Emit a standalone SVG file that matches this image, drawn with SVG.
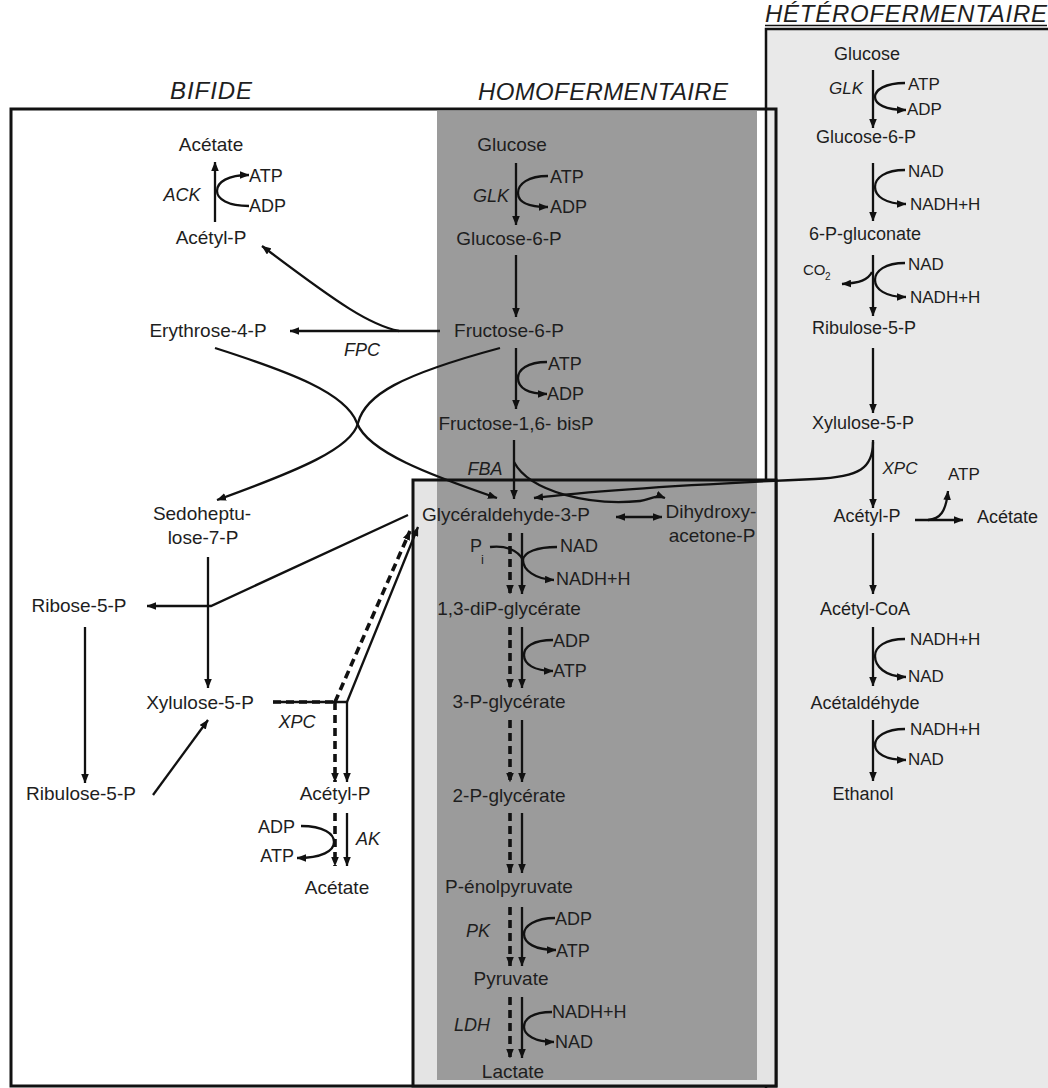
<svg xmlns="http://www.w3.org/2000/svg" width="1048" height="1088" viewBox="0 0 1048 1088">
<defs>
<marker id="ah" viewBox="0 0 10 8" refX="9.5" refY="4" markerWidth="9.5" markerHeight="8" markerUnits="userSpaceOnUse" orient="auto"><path d="M0,0 L10,4 L0,8 z" fill="#111"/></marker>
<marker id="ah2" viewBox="0 0 10 8" refX="9.5" refY="4" markerWidth="9.5" markerHeight="8" markerUnits="userSpaceOnUse" orient="auto-start-reverse"><path d="M0,0 L10,4 L0,8 z" fill="#111"/></marker>
<style>
text{font-family:"Liberation Sans",Arial,Helvetica,sans-serif;fill:#1e1e1e}
.n{font-size:19px;text-anchor:middle}
.h{font-size:18px;text-anchor:middle}
.hs{font-size:18px;text-anchor:start}
.c{font-size:18px}
.hc{font-size:17px}
.e{font-size:18px;font-style:italic;text-anchor:middle}
.t{font-size:24px;font-style:italic;text-anchor:middle}
.ln{stroke:#111;stroke-width:2.3;fill:none}
.ar{marker-end:url(#ah)}
.d{stroke-dasharray:8 5;stroke-width:3.6}
.box{fill:none;stroke:#111;stroke-width:3}
</style>
</defs>
<rect width="1048" height="1088" fill="#fff"/>
<g id="panels">
<rect x="766" y="29" width="300" height="1080" fill="#e9e9e9" stroke="#111" stroke-width="2.5"/>
<rect class="box" x="11" y="109" width="765" height="977"/>
<rect x="413" y="480" width="363" height="606" fill="#e4e4e4"/>
<rect x="437" y="111" width="320" height="969" fill="#9b9b9b"/>
<rect class="box" x="413" y="480" width="363" height="606"/>
</g>
<g id="titles">
<text class="t" x="211" y="99" textLength="82">BIFIDE</text>
<text class="t" x="603" y="100" textLength="250">HOMOFERMENTAIRE</text>
<text class="t" x="906" y="22" textLength="282">HÉTÉROFERMENTAIRE</text>
<line x1="765" y1="25.5" x2="1047" y2="25.5" stroke="#111" stroke-width="1.6"/>
</g>
<g id="connectors">
<!-- homofermentaire main axis -->
<line class="ln ar" x1="516" y1="163" x2="516" y2="225"/>
<line class="ln ar" x1="516" y1="255" x2="516" y2="317"/>
<line class="ln ar" x1="516" y1="348" x2="516" y2="409"/>
<line class="ln ar" x1="514" y1="440" x2="514" y2="499"/>
<line class="ln ar d" x1="510" y1="533" x2="510" y2="594"/>
<line class="ln ar" x1="522" y1="533" x2="522" y2="594"/>
<line class="ln ar d" x1="510" y1="627" x2="510" y2="688"/>
<line class="ln ar" x1="522" y1="627" x2="522" y2="688"/>
<line class="ln ar d" x1="510" y1="720" x2="510" y2="782"/>
<line class="ln ar" x1="522" y1="720" x2="522" y2="782"/>
<line class="ln ar d" x1="510" y1="813" x2="510" y2="873"/>
<line class="ln ar" x1="522" y1="813" x2="522" y2="873"/>
<line class="ln ar d" x1="510" y1="907" x2="510" y2="966"/>
<line class="ln ar" x1="522" y1="907" x2="522" y2="966"/>
<line class="ln ar d" x1="510" y1="997" x2="510" y2="1058"/>
<line class="ln ar" x1="522" y1="997" x2="522" y2="1058"/>
<!-- homo side reactions -->
<path class="ln ar" d="M548,176 C528,176 518,184 518,193 C518,202 528,207 548,207"/>
<path class="ln ar" d="M547,362 C527,362 518,370 518,378 C518,388 528,394 547,394"/>
<path class="ln" d="M490,547 C505,545 518,550 523,560"/>
<path class="ln ar" d="M557,547 C537,547 524,552 523,560 C523,570 535,579 554,580"/>
<path class="ln ar" d="M553,640 C533,640 524,647 524,655 C524,664 534,671 553,671"/>
<path class="ln ar" d="M555,918 C535,918 524,926 524,934 C524,943 535,950 556,950"/>
<path class="ln ar" d="M552,1012 C532,1012 524,1019 524,1027 C524,1035 535,1042 554,1042"/>
<!-- FBA to DHAP, isomerase -->
<path class="ln ar" d="M514,462 C530,492 590,506 640,501 C650,500 655,494 665,498"/>
<line class="ln" x1="616" y1="517" x2="662" y2="517" marker-start="url(#ah2)" marker-end="url(#ah2)"/>
<!-- bifide -->
<line class="ln ar" x1="215" y1="222" x2="215" y2="162"/>
<path class="ln ar" d="M249,206 C228,206 217,199 217,191 C217,182 228,175 249,175"/>
<path class="ln ar" d="M399,331 C370,325 340,305 262,246"/>
<line class="ln ar" x1="440" y1="331" x2="290" y2="331"/>
<path class="ln ar" d="M500,348 C400,375 365,395 358,423 C352,448 300,470 217,500"/>
<path class="ln ar" d="M215,348 C290,372 346,393 357,423 C368,452 430,475 497,498"/>
<line class="ln ar" x1="208" y1="557" x2="208" y2="688"/>
<polyline class="ln ar" points="408,515 211,606 147,606"/>
<line class="ln ar" x1="85" y1="627" x2="85" y2="783"/>
<line class="ln ar" x1="153" y1="795" x2="208" y2="720"/>
<line class="ln" x1="273" y1="702" x2="347" y2="702"/>
<line class="ln d" x1="273" y1="702" x2="335" y2="702"/>
<line class="ln ar d" x1="335" y1="702" x2="335" y2="782"/>
<line class="ln ar" x1="347" y1="702" x2="347" y2="782"/>
<line class="ln ar d" x1="335" y1="702" x2="410" y2="531"/>
<line class="ln ar" x1="347" y1="702" x2="418" y2="527"/>
<line class="ln ar d" x1="335" y1="813" x2="335" y2="866"/>
<line class="ln ar" x1="347" y1="813" x2="347" y2="866"/>
<path class="ln ar" d="M301,826 C324,826 334,834 334,842 C334,851 322,858 297,858"/>
<!-- heterofermentaire -->
<line class="ln ar" x1="873" y1="70" x2="873" y2="128"/>
<line class="ln ar" x1="873" y1="163" x2="873" y2="221"/>
<line class="ln ar" x1="873" y1="255" x2="873" y2="316"/>
<line class="ln ar" x1="873" y1="348" x2="873" y2="413"/>
<line class="ln ar" x1="873" y1="440" x2="873" y2="508"/>
<line class="ln ar" x1="873" y1="533" x2="873" y2="594"/>
<line class="ln ar" x1="873" y1="627" x2="873" y2="686"/>
<line class="ln ar" x1="873" y1="720" x2="873" y2="781"/>
<path class="ln ar" d="M905,83 C885,83 875,90 875,97 C875,104 885,110 906,110"/>
<path class="ln ar" d="M905,170 C885,170 875,178 875,187 C875,196 885,204 906,204"/>
<path class="ln ar" d="M905,263 C885,263 875,271 875,280 C875,289 885,297 906,297"/>
<path class="ln ar" d="M872,272 C868,280 860,283 842,284"/>
<path class="ln ar" d="M905,639 C885,639 875,647 875,656 C875,666 885,677 906,677"/>
<path class="ln ar" d="M905,729 C885,729 875,737 875,745 C875,753 885,760 906,760"/>
<line class="ln ar" x1="915" y1="520" x2="963" y2="520"/>
<path class="ln ar" d="M928,520 C940,519 946,512 948,491"/>
<path class="ln ar" d="M873,442 C873,468 860,477 815,479 C700,484 600,490 534,498"/>
</g>
<g id="node-bif-acetate"><text class="n" x="211" y="151">Acétate</text></g>
<g id="node-bif-ack"><text class="e" x="182" y="201">ACK</text><text class="c" x="249" y="182">ATP</text><text class="c" x="249" y="212">ADP</text></g>
<g id="node-bif-acetylp1"><text class="n" x="211" y="244">Acétyl-P</text></g>
<g id="node-erythrose"><text class="n" x="208" y="337">Erythrose-4-P</text></g>
<g id="node-fpc"><text class="e" x="362" y="356">FPC</text></g>
<g id="node-sedo"><text class="n" x="202" y="520">Sedoheptu-</text><text class="n" x="203" y="544">lose-7-P</text></g>
<g id="node-ribose"><text class="n" x="79" y="612">Ribose-5-P</text></g>
<g id="node-ribulose"><text class="n" x="81" y="800">Ribulose-5-P</text></g>
<g id="node-bif-xylulose"><text class="n" x="200" y="709">Xylulose-5-P</text></g>
<g id="node-bif-xpc"><text class="e" x="297" y="728">XPC</text></g>
<g id="node-bif-acetylp2"><text class="n" x="335" y="800">Acétyl-P</text></g>
<g id="node-bif-ak"><text class="c" x="295" y="833" text-anchor="end">ADP</text><text class="c" x="294" y="862" text-anchor="end">ATP</text><text class="e" x="368" y="845">AK</text></g>
<g id="node-bif-acetate2"><text class="n" x="337" y="894">Acétate</text></g>
<g id="node-homo-glucose"><text class="n" x="512" y="151">Glucose</text></g>
<g id="node-homo-glk"><text class="e" x="491" y="202">GLK</text><text class="c" x="550" y="183">ATP</text><text class="c" x="550" y="213">ADP</text></g>
<g id="node-homo-g6p"><text class="n" x="509" y="245">Glucose-6-P</text></g>
<g id="node-f6p"><text class="n" x="509" y="337">Fructose-6-P</text></g>
<g id="node-pfk"><text class="c" x="548" y="370">ATP</text><text class="c" x="547" y="400">ADP</text></g>
<g id="node-f16bp"><text class="n" x="516" y="430">Fructose-1,6- bisP</text></g>
<g id="node-fba"><text class="e" x="485" y="475">FBA</text></g>
<g id="node-g3p"><text class="n" x="506" y="521">Glycéraldehyde-3-P</text></g>
<g id="node-dhap"><text class="n" x="711" y="518">Dihydroxy-</text><text class="n" x="712" y="542">acetone-P</text></g>
<g id="node-gapdh"><text class="c" x="470" y="552">P</text><text x="481" y="564" style="font-size:13px">i</text><text class="c" x="560" y="552">NAD</text><text class="c" x="556" y="585">NADH+H</text></g>
<g id="node-13dpg"><text class="n" x="509" y="615">1,3-diP-glycérate</text></g>
<g id="node-pgk"><text class="c" x="553" y="647">ADP</text><text class="c" x="553" y="677">ATP</text></g>
<g id="node-3pg"><text class="n" x="509" y="708">3-P-glycérate</text></g>
<g id="node-2pg"><text class="n" x="509" y="802">2-P-glycérate</text></g>
<g id="node-pep"><text class="n" x="509" y="893">P-énolpyruvate</text></g>
<g id="node-pk"><text class="e" x="478" y="937">PK</text><text class="c" x="555" y="925">ADP</text><text class="c" x="556" y="957">ATP</text></g>
<g id="node-pyruvate"><text class="n" x="511" y="985">Pyruvate</text></g>
<g id="node-ldh"><text class="e" x="472" y="1031">LDH</text><text class="c" x="552" y="1018">NADH+H</text><text class="c" x="555" y="1048">NAD</text></g>
<g id="node-lactate"><text class="n" x="513" y="1078">Lactate</text></g>
<g id="node-het-glucose"><text class="h" x="867" y="60">Glucose</text></g>
<g id="node-het-glk"><text class="e" x="846" y="94" style="font-size:17px">GLK</text><text class="hc" x="908" y="90">ATP</text><text class="hc" x="907" y="115">ADP</text></g>
<g id="node-het-g6p"><text class="h" x="866" y="143">Glucose-6-P</text></g>
<g id="node-het-g6pdh"><text class="hc" x="908" y="177">NAD</text><text class="hc" x="910" y="210">NADH+H</text></g>
<g id="node-6pg"><text class="h" x="865" y="240">6-P-gluconate</text></g>
<g id="node-het-6pgdh"><text class="hc" x="908" y="270">NAD</text><text class="hc" x="910" y="303">NADH+H</text><text x="803" y="275" style="font-size:15px">CO</text><text x="825" y="280" style="font-size:10px">2</text></g>
<g id="node-het-ru5p"><text class="h" x="864" y="334">Ribulose-5-P</text></g>
<g id="node-het-xu5p"><text class="h" x="863" y="429">Xylulose-5-P</text></g>
<g id="node-het-xpc"><text class="e" x="900" y="474" style="font-size:17px">XPC</text><text class="hc" x="948" y="480">ATP</text></g>
<g id="node-het-acetylp"><text class="h" x="867" y="522">Acétyl-P</text></g>
<g id="node-het-acetate"><text class="hs" x="977" y="523">Acétate</text></g>
<g id="node-acetylcoa"><text class="h" x="865" y="615">Acétyl-CoA</text></g>
<g id="node-het-adh1"><text class="hc" x="910" y="645">NADH+H</text><text class="hc" x="908" y="682">NAD</text></g>
<g id="node-acetaldehyde"><text class="h" x="865" y="709">Acétaldéhyde</text></g>
<g id="node-het-adh2"><text class="hc" x="910" y="735">NADH+H</text><text class="hc" x="908" y="765">NAD</text></g>
<g id="node-ethanol"><text class="h" x="863" y="800">Ethanol</text></g>
</svg>
